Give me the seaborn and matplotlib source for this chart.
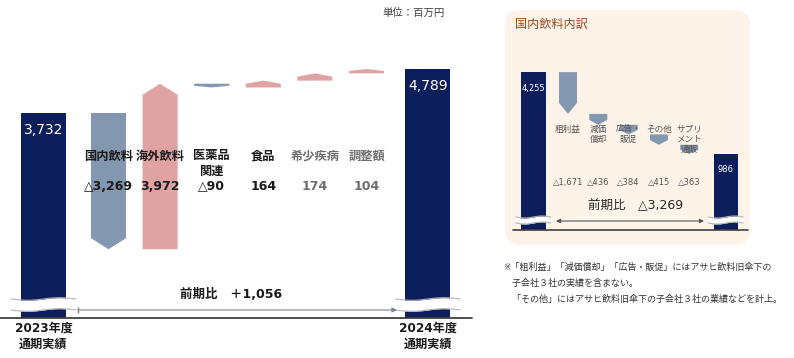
import numpy as np
import pandas as pd
import matplotlib
matplotlib.use("Agg")
import matplotlib.pyplot as plt
import seaborn as sns
from matplotlib.patches import FancyBboxPatch

# ---- data ----
main_cats = ['国内飲料', '海外飲料', '医薬品\n関連', '食品', '希少疾病', '調整額']
main_deltas = [-3269, 3972, -90, 164, 174, 104]
main_totals = [3732, 4789]
main_total_names = ['2023年度\n通期実績', '2024年度\n通期実績']
main_change = 1056

sub_cats = ['粗利益', '減価\n償却', '広告・\n販促', 'その他', 'サプリ\nメント\n通販']
sub_deltas = [-1671, -436, -384, -415, -363]
sub_totals = [4255, 986]
sub_change = -3269

unit_text = '単位：百万円'
sub_title = '国内飲料内訳'
notes = ['※「粗利益」「減価償却」「広告・販促」にはアサヒ飲料旧傘下の',
         '　子会社３社の実績を含まない。',
         '　「その他」にはアサヒ飲料旧傘下の子会社３社の業績などを計上。']

# ---- style ----
navy = '#0c1f5c'
down_c = '#8497b0'
up_c = '#e0a3a3'
main_label_colors = ['#1a1a1a', '#1a1a1a', '#1a1a1a', '#1a1a1a', '#6e6e6e', '#6e6e6e']

W, H = 794, 358
sns.set_theme(style='white')
plt.rcParams['font.family'] = ['DejaVu Sans', 'Noto Sans CJK JP']

fig = plt.figure(figsize=(W / 100, H / 100), dpi=100)


def fmt(v):
    return ('△' if v < 0 else '') + f'{abs(v):,}'


def px_axes(x0, y0, x1, y1):
    return fig.add_axes([x0 / W, 1 - y1 / H, (x1 - x0) / W, (y1 - y0) / H])


def make_scale(zero_px, per_px, x0_px, step_px):
    vy = lambda p: (zero_px - p) * per_px
    ux = lambda q: (q - x0_px) / step_px
    return vy, ux


def waterfall(ax, deltas, totals, gaps, wt, wd, tip_cap, base):
    n = len(deltas)
    xs = np.arange(n)
    tot_x = np.array([-gaps[0], n - 1 + gaps[1]])
    df = pd.DataFrame({'x': tot_x, 'v': totals})
    rel = wt / np.ptp(tot_x)
    sns.barplot(data=df, x='x', y='v', native_scale=True, width=rel, color=navy,
                saturation=1, linewidth=0, errorbar=None, ax=ax)
    sns.barplot(x=tot_x, y=[base, base], native_scale=True, width=rel, color=navy,
                saturation=1, linewidth=0, errorbar=None, ax=ax)
    ends = totals[0] + np.cumsum(deltas)
    starts = ends - np.array(deltas)
    for x, s, e, d in zip(xs, starts, ends, deltas):
        tip = np.sign(d) * min(0.45 * abs(d), tip_cap)
        pts = [(x - wd / 2, s), (x + wd / 2, s), (x + wd / 2, e - tip),
               (x, e), (x - wd / 2, e - tip)]
        ax.fill(*zip(*pts), color=up_c if d > 0 else down_c, lw=0, zorder=3)
    return xs, tot_x


def axis_break(ax, x0, x1, ylo, yhi, amp):
    t = np.linspace(0, 1, 80)
    xx = x0 + (x1 - x0) * t
    w = -amp * np.sin(2 * np.pi * t)
    ax.fill_between(xx, ylo + w, yhi + w, color='white', lw=0, zorder=5)
    ax.plot(xx, yhi + w, color='#b4b4b4', lw=0.8, zorder=6)
    ax.plot(xx, ylo + w, color='#b4b4b4', lw=0.8, zorder=6)


# ---- main waterfall ----
ax = px_axes(0, 0, 480, 358)
vy, ux = make_scale(268.5, 24, 108.5, 51.6)
base = vy(318)
wt_main = 0.872
xs, tot_x = waterfall(ax, main_deltas, main_totals, (1.26, 1.19), wt_main, 0.68, 265, base)
ax.set_xlim(ux(0), ux(480))
ax.set_ylim(vy(358), vy(0))
ax.axis('off')

ax.plot([ux(0), ux(472)], [base, base], color='#404040', lw=1.3, zorder=7)
for tx in tot_x:
    axis_break(ax, tx - wt_main / 2 - 0.19, tx + wt_main / 2 + 0.19, vy(310), vy(299), 1.3 * 24)

for x, name, d, c in zip(xs, main_cats, main_deltas, main_label_colors):
    ax.text(x, vy(149.5), name, ha='center', va='top', fontsize=8.8, fontweight='bold',
            color=c, linespacing=1.25, zorder=8)
    ax.text(x, vy(186), fmt(d), ha='center', va='center', fontsize=9, fontweight='bold',
            color=c, zorder=8)

for tx, v, name in zip(tot_x, main_totals, main_total_names):
    ax.text(tx, v - 17 * 24, f'{v:,}', ha='center', va='center', fontsize=10,
            color='white', zorder=8)
    ax.text(tx, vy(321.5), name, ha='center', va='top', fontsize=8.7, fontweight='bold',
            color='#1a1a1a', linespacing=1.3, zorder=8)

ax.annotate('', xy=(ux(397), vy(310)), xytext=(ux(78), vy(310)),
            arrowprops=dict(arrowstyle='-|>', color='#7f8590', lw=0.8, mutation_scale=7,
                            shrinkA=0, shrinkB=0), zorder=7)
ax.plot(ux(78), vy(310), marker='|', ms=4, mew=1, color='#7f8590', zorder=7)
ax.text(ux(231.5), vy(295), '前期比　' + ('＋' if main_change > 0 else '△') + f'{abs(main_change):,}',
        ha='center', va='center', fontsize=9, fontweight='bold', color='#1a1a1a', zorder=8)

# ---- inset panel ----
panel = FancyBboxPatch((5.05, 1.13), 2.45, 2.35, boxstyle='round,pad=0,rounding_size=0.15',
                       transform=fig.dpi_scale_trans, facecolor='#fdf3e9', edgecolor='none',
                       zorder=-1)
fig.add_artist(panel)

ax2 = px_axes(505, 10, 750, 245)
vy2, ux2 = make_scale(178.5, 40, 568, 30.3)
base2 = vy2(230)
wt_sub = 0.81
xs2, tot_x2 = waterfall(ax2, sub_deltas, sub_totals, (1.145, 1.21), wt_sub, 0.594, 440, base2)
ax2.set_xlim(ux2(505), ux2(750))
ax2.set_ylim(vy2(245), vy2(10))
ax2.axis('off')

ax2.plot([ux2(513), ux2(748)], [base2, base2], color='#404040', lw=1.2, zorder=7)
for tx in tot_x2:
    axis_break(ax2, tx - wt_sub / 2 - 0.17, tx + wt_sub / 2 + 0.17, vy2(223), vy2(217), 1.0 * 40)

for x, name, d in zip(xs2, sub_cats, sub_deltas):
    ax2.text(x, vy2(124.5), name, ha='center', va='top', fontsize=6.2, color='#555555',
             linespacing=1.2, zorder=8)
    ax2.text(x, vy2(182), fmt(d), ha='center', va='center', fontsize=6, color='#555555', zorder=8)

for tx, v in zip(tot_x2, sub_totals):
    ax2.text(tx, v - 16 * 40, f'{v:,}', ha='center', va='center', fontsize=6,
             color='white', zorder=8)

ax2.annotate('', xy=(ux2(704), vy2(221)), xytext=(ux2(556), vy2(221)),
             arrowprops=dict(arrowstyle='<|-|>', color='#555555', lw=0.8, mutation_scale=6,
                             shrinkA=0, shrinkB=0), zorder=7)
ax2.text(ux2(636), vy2(206), '前期比　' + fmt(sub_change), ha='center', va='center',
         fontsize=9, color='#262626', zorder=8)

# ---- figure texts ----
fig.text(382 / W, 1 - 13 / H, unit_text, ha='left', va='center', fontsize=7.5, color='#404040')
fig.text(515 / W, 1 - 24 / H, sub_title, ha='left', va='center', fontsize=8.7, color='#9a4a1e')
for i, line in enumerate(notes):
    fig.text(503 / W, 1 - (267 + 16 * i) / H, line, ha='left', va='center', fontsize=6.5,
             color='#333333')

fig.savefig('out.png', dpi=100)
